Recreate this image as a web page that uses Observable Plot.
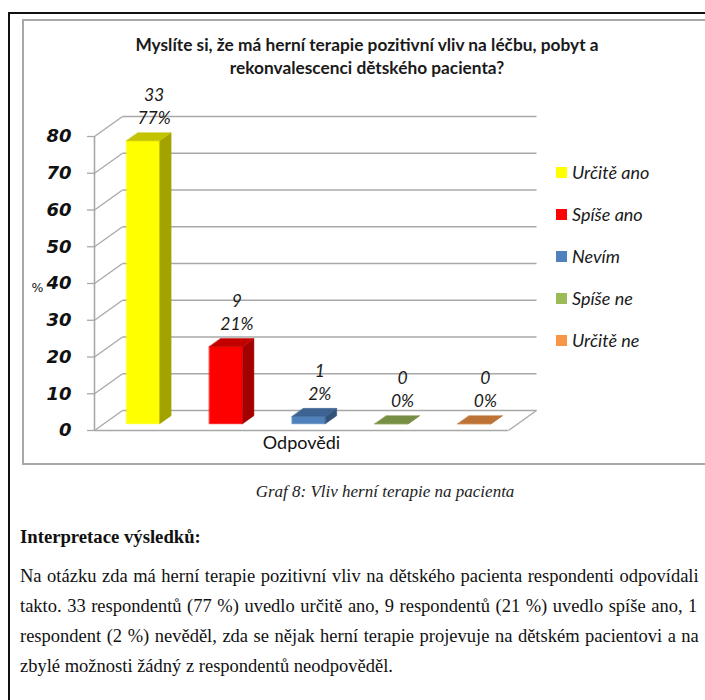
<!DOCTYPE html>
<html lang="cs">
<head>
<meta charset="utf-8">
<script src="https://cdn.jsdelivr.net/npm/d3@7"></script>
<script src="https://cdn.jsdelivr.net/npm/@observablehq/plot@0.6"></script>
<style>
  html, body { margin: 0; padding: 0; width: 705px; height: 700px; overflow: hidden; background: #fff; }
  #page { position: relative; width: 705px; height: 700px; overflow: hidden; }
  #frame { position: absolute; left: 8px; top: 12px; width: 760px; height: 760px; border: 2px solid #111; }
  #box { position: absolute; left: 22px; top: 19px; width: 686px; height: 442px; border: 2px solid #a8a8a8; }
  #title { position: absolute; left: 22px; width: 690px; top: 33px; text-align: center;
           font: bold 17.3px Lato, sans-serif; line-height: 23px; color: #1a1a1a; }
  #chart { position: absolute; left: 0; top: 0; }
  #legend { position: absolute; left: 556px; top: 151px; font: italic 18px Lato, sans-serif; color: #1a1a1a; }
  #legend .item { height: 42px; display: flex; align-items: center; }
  #legend .sw { width: 11px; height: 11px; margin-right: 5px; }
  #caption { position: absolute; left: 0; width: 770px; top: 482px; text-align: center;
             font: italic 17px "Liberation Serif", serif; color: #222; }
  #heading { position: absolute; left: 20px; top: 526px; font: bold 18.7px "Liberation Serif", serif; color: #111; }
  #para { position: absolute; left: 20px; top: 561px; font: 18.5px "Liberation Serif", serif; color: #111; line-height: 30px; }
  #para div { white-space: nowrap; word-spacing: 0.9px; }
  #para div:last-child { word-spacing: 0; }
</style>
</head>
<body>
<div id="page">
  <div id="frame"></div>
  <div id="box"></div>
  <div id="title"></div>
  <div id="chart"></div>
  <div id="legend"></div>
  <div id="caption"></div>
  <div id="heading"></div>
  <div id="para"></div>
</div>
<script>
// Survey answers: "Do you think play therapy has a positive effect on the child patient?"
const categories = ["Určitě ano", "Spíše ano", "Nevím", "Spíše ne", "Určitě ne"];
const counts = [33, 9, 1, 0, 0];
const percents = [77, 21, 2, 0, 0];
const colors = ["#FFFF00", "#FF0000", "#4F81BD", "#9BBB59", "#F79646"];
const yTicks = [0, 10, 20, 30, 40, 50, 60, 70, 80];

const titleLines = [
  "Myslíte si, že má herní terapie pozitivní vliv na léčbu, pobyt a",
  "rekonvalescenci dětského pacienta?"
];
const xTitle = "Odpovědi";
const yTitle = "%";
const captionText = "Graf 8: Vliv herní terapie na pacienta";
const headingText = "Interpretace výsledků:";
const paragraphLines = [
  "Na otázku zda má herní terapie pozitivní vliv na dětského pacienta respondenti odpovídali",
  "takto. 33 respondentů (77 %) uvedlo určitě ano, 9 respondentů (21 %) uvedlo spíše ano, 1",
  "respondent (2 %) nevěděl, zda se nějak herní terapie projevuje na dětském pacientovi a na",
  "zbylé možnosti žádný z respondentů neodpověděl."
];

// Layout of the chart svg (pixels)
const W = 705, H = 470;
const mL = 94, mR = 197, mT = 136, mB = 40;
const xMax = categories.length;
const yMax = yTicks[yTicks.length - 1];
const kx = (W - mL - mR) / xMax;   // px per x unit
const ky = (H - mT - mB) / yMax;   // px per y unit
// Oblique depth of the 3D floor, expressed in data units
const Dx = 28 / kx, Dy = 20 / ky;
const at = (x, y, f) => ({x: x + f * Dx, y: y + f * Dy});

// Bar footprint: inset from category start, width, and front/back depth fractions
const inset = 0.273, bw = 0.402, f0 = 0.335, f1 = 0.74;

const grid = "#a8a8a8";
const bars = categories.map((c, i) => {
  const xl = i + inset, xr = xl + bw, v = percents[i];
  const base = d3.color(colors[i]);
  return {
    i, c, v, count: counts[i],
    front: [at(xl, 0, f0), at(xr, 0, f0), at(xr, v, f0), at(xl, v, f0)],
    side: [at(xr, 0, f0), at(xr, 0, f1), at(xr, v, f1), at(xr, v, f0)],
    top: [at(xl, v, f0), at(xr, v, f0), at(xr, v, f1), at(xl, v, f1)],
    label: at(xl + bw / 2, v, f0),
    cFront: base.formatHex(),
    cSide: base.darker(1.25).formatHex(),
    cTop: base.darker(0.75).formatHex()
  };
});

const face = (pts, fill) => Plot.line(pts, {x: "x", y: "y", fill, stroke: fill, strokeWidth: 0.5, curve: "linear-closed"});

const chart = Plot.plot({
  width: W, height: H,
  marginLeft: mL, marginRight: mR, marginTop: mT, marginBottom: mB,
  style: {background: "transparent", overflow: "visible"},
  x: {domain: [0, xMax], axis: null},
  y: {domain: [0, yMax]},
  marks: [
    // back wall gridlines
    Plot.link(yTicks, {x1: () => Dx, x2: () => xMax + Dx, y1: v => v + Dy, y2: v => v + Dy, stroke: grid, strokeWidth: 1.6}),
    // side wall diagonals
    Plot.link(yTicks, {x1: () => 0, x2: () => Dx, y1: v => v, y2: v => v + Dy, stroke: grid, strokeWidth: 1.3}),
    // floor front and right edges
    Plot.ruleY([0], {x1: 0, x2: xMax, stroke: grid, strokeWidth: 1.6}),
    Plot.link([0], {x1: () => xMax, y1: () => 0, x2: () => xMax + Dx, y2: () => Dy, stroke: grid, strokeWidth: 1.3}),
    // value axis line
    Plot.ruleX([0], {y1: 0, y2: yMax, stroke: grid, strokeWidth: 1.6}),
    Plot.axisY({
      ticks: yTicks, tickSize: 7, tickPadding: 16, tickFormat: d => String(d),
      stroke: grid, strokeWidth: 1.3, fill: "#111",
      fontSize: 18, fontWeight: "bold", fontStyle: "italic", fontFamily: "DejaVu Sans",
      label: null
    }),
    // 3D columns
    ...bars.flatMap(b => [face(b.front, b.cFront), face(b.side, b.cSide), face(b.top, b.cTop)]),
    // value labels: respondent count and share
    Plot.text(bars, {x: d => d.label.x, y: d => d.label.y, text: d => String(d.count), dx: 11, dy: -45,
      fontSize: 17.5, fontStyle: "italic", fontFamily: "Lato", fill: "#1a1a1a"}),
    Plot.text(bars, {x: d => d.label.x, y: d => d.label.y, text: d => `${d.v}%`, dx: 11, dy: -22,
      fontSize: 17.5, fontStyle: "italic", fontFamily: "Lato", fill: "#1a1a1a"}),
    // axis titles
    Plot.text([yTitle], {frameAnchor: "left", dx: -51, dy: 4, textAnchor: "end", fontSize: 12.5, fontFamily: "DejaVu Sans", fill: "#111"}),
    Plot.text([xTitle], {frameAnchor: "bottom", dy: 18, fontSize: 18, fontFamily: "Lato", fill: "#111"})
  ]
});
document.getElementById("chart").appendChild(chart);

// Title
const title = document.getElementById("title");
titleLines.forEach(t => { const d = document.createElement("div"); d.textContent = t; title.appendChild(d); });

// Legend
const legend = document.getElementById("legend");
categories.forEach((c, i) => {
  const item = document.createElement("div");
  item.className = "item";
  const sw = document.createElement("span");
  sw.className = "sw";
  sw.style.background = colors[i];
  const tx = document.createElement("span");
  tx.textContent = c;
  item.append(sw, tx);
  legend.appendChild(item);
});

// Caption and interpretation text
document.getElementById("caption").textContent = captionText;
document.getElementById("heading").textContent = headingText;
const para = document.getElementById("para");
paragraphLines.forEach(t => { const d = document.createElement("div"); d.textContent = t; para.appendChild(d); });
</script>
</body>
</html>
